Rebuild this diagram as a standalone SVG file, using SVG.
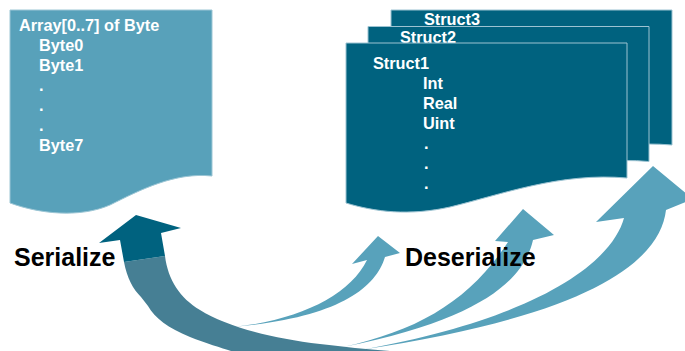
<svg xmlns="http://www.w3.org/2000/svg" width="685" height="351" viewBox="0 0 685 351">
<style>
.t{font-family:"Liberation Sans",Arial,sans-serif;font-weight:bold;font-size:16.3px;fill:#ffffff}
.lbl{font-family:"Liberation Sans",Arial,sans-serif;font-weight:bold;font-size:25px;fill:#000000}
.dark{fill:#00627f;stroke:#9cc3d2;stroke-width:1}
.light{fill:#58a2bb}
</style>
<defs>
<path id="sdoc" d="M346,43 H627 V178 C560,172 500,195 450,207 C410,216 375,212 346,203 Z"/>
</defs>
<rect width="685" height="351" fill="#ffffff"/>
<g id="doc-array">
<path d="M10,10 H212 V176 C175,172 140,190 110,205 C80,218 40,214 10,203 Z" fill="#58a1ba" stroke="#9cc6d5" stroke-width="1"/>
<text class="t" x="19" y="31">Array[0..7] of Byte</text>
<text class="t" x="39" y="51">Byte0</text>
<text class="t" x="39" y="71">Byte1</text>
<text class="t" x="39" y="91">.</text>
<text class="t" x="39" y="111">.</text>
<text class="t" x="39" y="131">.</text>
<text class="t" x="39" y="151">Byte7</text>
</g>
<g id="struct3">
<use href="#sdoc" class="dark" transform="translate(45,-33)"/>
<text class="t" x="424" y="25">Struct3</text>
</g>
<g id="struct2">
<use href="#sdoc" class="dark" transform="translate(22,-16.5)"/>
<text class="t" x="400" y="43">Struct2</text>
</g>
<g id="struct1">
<use href="#sdoc" class="dark"/>
<text class="t" x="373" y="69">Struct1</text>
<text class="t" x="423" y="89">Int</text>
<text class="t" x="423" y="109">Real</text>
<text class="t" x="423" y="129">Uint</text>
<text class="t" x="424" y="149">.</text>
<text class="t" x="424" y="169">.</text>
<text class="t" x="424" y="189">.</text>
</g>
<g id="connectors">
<path d="M165,256 C168,280 180,298 200,310 C225,326 270,338 320,344 C345,347 365,349 390,351 L231,351 C222,348 205,343 190,337 C168,328 155,318 148,306 L141,297 C133,289 127,278 124,262 Z" fill="#467f94"/>
<path d="M136,215 L181,228 L161,233 L165,256 L124,262 L120,240 L99,243 Z" fill="#00627f"/>
<path class="light" d="M352,264 L378,236 L400,253 L385,257 C375,290 335,318 233,327 C300,320 350,295 367,260 Z"/>
<path class="light" d="M495,241 L523,209 L554,235 L533,240 C525,275 490,318 343,347 C420,330 470,300 508,242 Z"/>
<path class="light" d="M596,222 L653,166 L693,199 L666,210 C660,260 595,315 360,350 C540,318 612,262 624,218 Z"/>
</g>
<text class="lbl" x="14" y="266">Serialize</text>
<text class="lbl" x="405" y="266">Deserialize</text>
</svg>
